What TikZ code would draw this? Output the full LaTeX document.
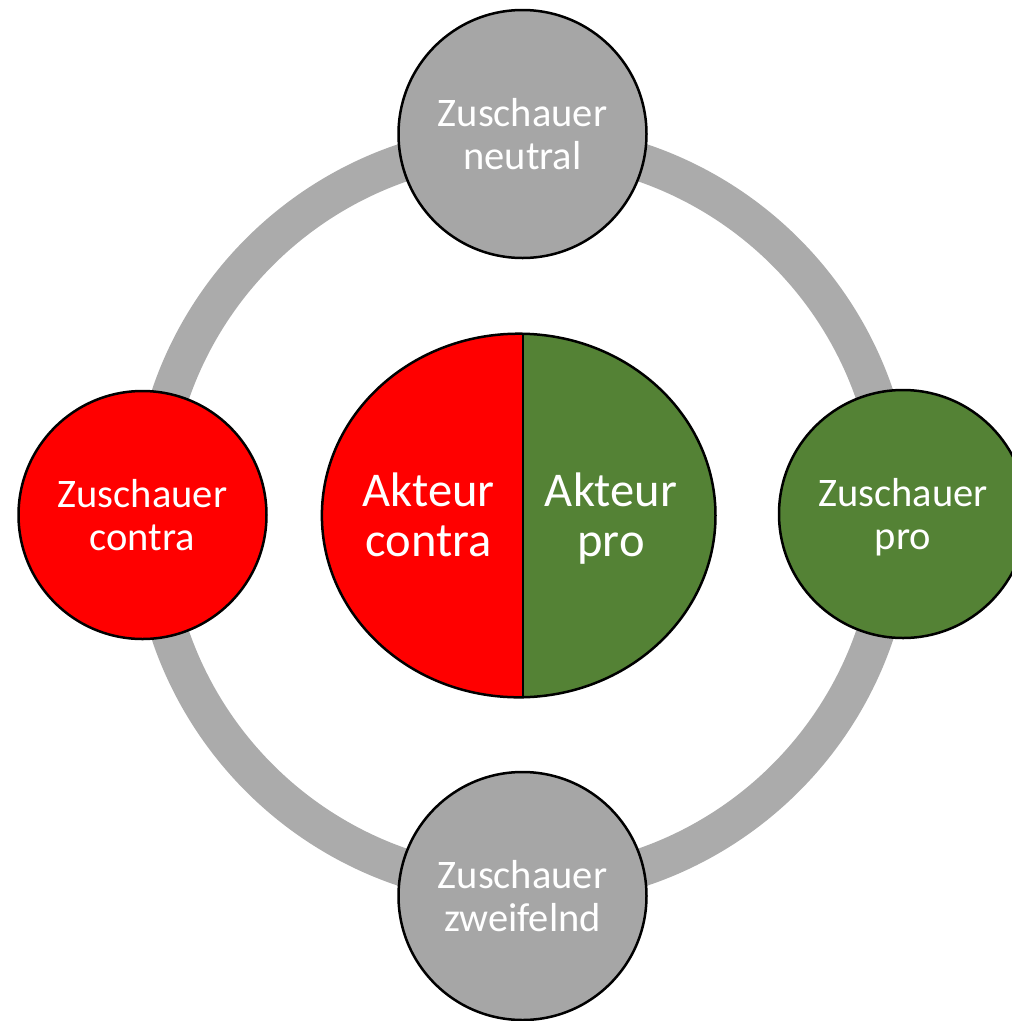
\documentclass[tikz,border=0pt]{standalone}
\usepackage{fontspec}
\setmainfont{Carlito}
\definecolor{redA}{HTML}{FF0000}
\definecolor{greenA}{HTML}{548235}
\definecolor{grayA}{HTML}{A6A6A6}
\definecolor{ringgray}{HTML}{ABABAB}
\begin{document}
\begin{tikzpicture}[x=1pt,y=-1pt,
  member/.style={circle, draw=black, line width=2.5pt, minimum size=248pt, inner sep=0pt},
  memberlabel/.style={text=white, align=center, inner sep=0pt, font=\fontsize{40.5}{43}\selectfont,
    execute at begin node=\strut, execute at end node=\strut},
  ringline/.style={draw=ringgray, line width=38pt},
  outline/.style={draw=black, line width=2.5pt},
  halflabel/.style={text=white, align=center, inner sep=0pt, font=\fontsize{48.5}{50.5}\selectfont,
    execute at begin node=\strut, execute at end node=\strut}]
\useasboundingbox (0,0) rectangle (1012,1021);
\coordinate (c) at (522.5,515);
\draw[ringline] (c) circle[radius=372];
\node[member, fill=grayA] (neutral) at (522.5,134) {};
\node[member, fill=grayA] (zweifelnd) at (522.5,896) {};
\node[member, fill=redA] (zcontra) at (142.5,515) {};
\node[member, fill=greenA] (zpro) at (903,514) {};
\node[memberlabel, yshift=-6pt] (tneutral) at (neutral) {Zuschauer\\neutral};
\node[memberlabel, yshift=-6pt] (tzweifelnd) at (zweifelnd) {Zuschauer\\zweifelnd};
\node[memberlabel, yshift=-6pt] (tzcontra) at (zcontra) {Zuschauer\\contra};
\node[memberlabel, yshift=-6pt] (tzpro) at (zpro) {Zuschauer\\pro};
\coordinate (e) at (518.7,515.5);
\begin{scope}
  \clip (e) ellipse[x radius=196.8, y radius=181.8];
  \fill[redA] (300,320) rectangle (522.7,710);
  \fill[greenA] (522.7,320) rectangle (740,710);
\end{scope}
\draw[outline] (e) ellipse[x radius=196.8, y radius=181.8];
\coordinate (dtop) at (522.7,333.5);
\coordinate (dbot) at (522.7,697.5);
\draw[draw=black, line width=2pt] (dtop) -- (dbot);
\node[halflabel] (acontra) at (428.5,522) {Akteur\\contra};
\node[halflabel] (apro) at (611,522) {Akteur\\pro};
\end{tikzpicture}
\end{document}
